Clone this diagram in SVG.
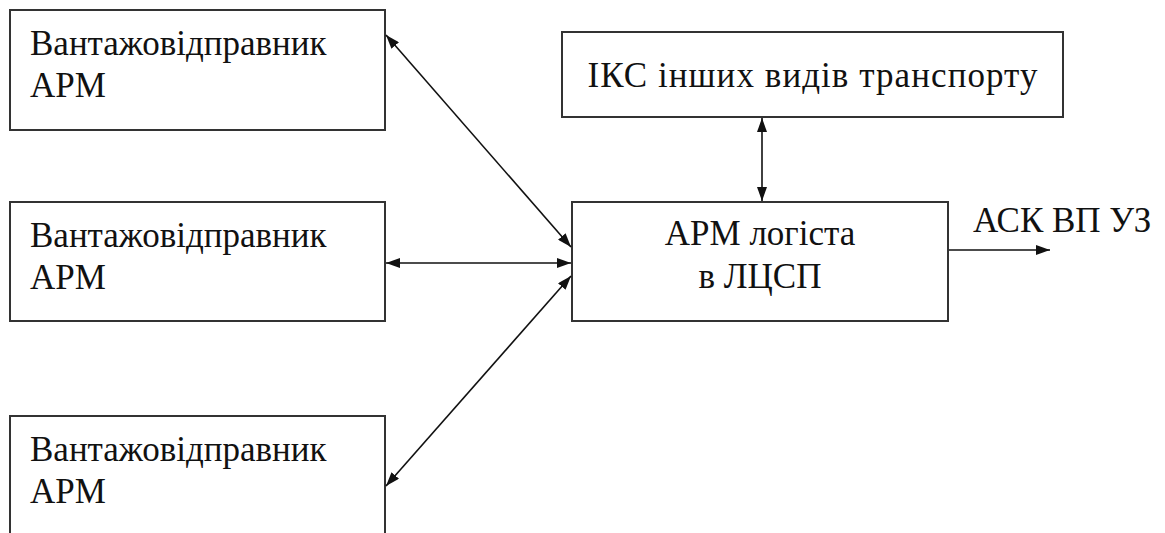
<svg xmlns="http://www.w3.org/2000/svg" width="1165" height="533" viewBox="0 0 1165 533">
<style>
.box{fill:#fff;stroke:#333;stroke-width:2}
.t{font-family:"Liberation Serif","Times New Roman",serif;font-size:35px;fill:#111}
.c{text-anchor:middle}
.ln{stroke:#111;stroke-width:1.6;fill:none}
</style>
<defs>
<marker id="ah" viewBox="0 0 14 10" refX="14" refY="5" markerWidth="14" markerHeight="10" markerUnits="userSpaceOnUse" orient="auto-start-reverse">
<path d="M0,0 L14,5 L0,10 z" fill="#111"/>
</marker>
</defs>
<rect width="1165" height="533" fill="#fff"/>
<g id="shipper1">
<rect class="box" x="10" y="10" width="375" height="120"/>
<text class="t" x="30" y="55">Вантажовідправник</text>
<text class="t" x="30" y="97">АРМ</text>
</g>
<g id="shipper2">
<rect class="box" x="10" y="202" width="375" height="119"/>
<text class="t" x="30" y="247">Вантажовідправник</text>
<text class="t" x="30" y="289">АРМ</text>
</g>
<g id="shipper3">
<rect class="box" x="10" y="416" width="375" height="130"/>
<text class="t" x="30" y="461">Вантажовідправник</text>
<text class="t" x="30" y="503">АРМ</text>
</g>
<g id="iks">
<rect class="box" x="562" y="32" width="501" height="85"/>
<text class="t c" x="812.5" y="87" textLength="450" lengthAdjust="spacing">ІКС інших видів транспорту</text>
</g>
<g id="logist">
<rect class="box" x="572" y="202" width="376" height="119"/>
<text class="t c" x="760" y="245">АРМ логіста</text>
<text class="t c" x="760" y="288">в ЛЦСП</text>
</g>
<g id="output-label">
<text class="t" x="973" y="232">АСК ВП УЗ</text>
</g>
<g id="connectors">
<line class="ln" x1="386" y1="35" x2="571" y2="247" marker-start="url(#ah)" marker-end="url(#ah)"/>
<line class="ln" x1="386" y1="263" x2="571" y2="263" marker-start="url(#ah)" marker-end="url(#ah)"/>
<line class="ln" x1="386" y1="486" x2="571" y2="276" marker-start="url(#ah)" marker-end="url(#ah)"/>
<line class="ln" x1="762" y1="118" x2="762" y2="201" marker-start="url(#ah)" marker-end="url(#ah)"/>
<line class="ln" x1="949" y1="250" x2="1050" y2="250" marker-end="url(#ah)"/>
</g>
</svg>
